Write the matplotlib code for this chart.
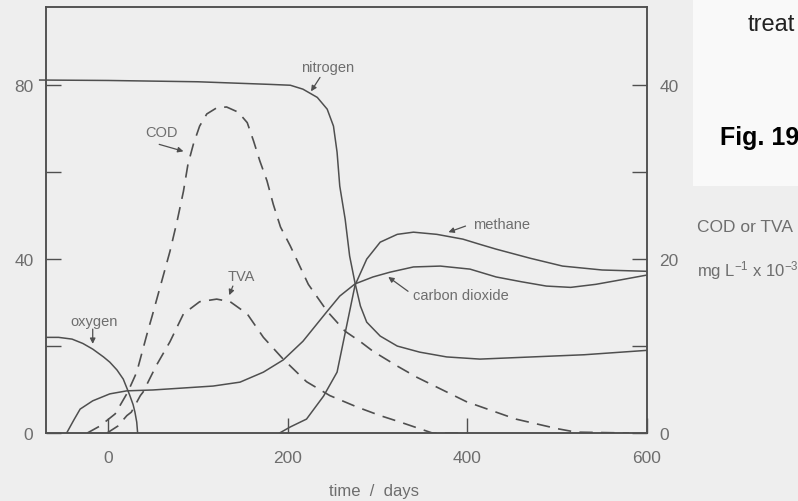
import matplotlib
matplotlib.use("Agg")
import matplotlib.pyplot as plt
from matplotlib.patches import Rectangle

plt.rcParams['font.family'] = ['Liberation Sans', 'DejaVu Sans']
plt.rcParams['mathtext.fontset'] = 'custom'
plt.rcParams['mathtext.rm'] = 'Liberation Sans'
plt.rcParams['mathtext.default'] = 'regular'

# gases, % (left axis)
nitrogen_days = [-76, 0, 100, 180, 203, 217, 233, 244, 251, 255, 258, 264, 269, 275, 281, 288, 303, 322, 347, 377, 414, 472, 530, 599]
nitrogen_vals = [81.2, 81.1, 80.8, 80.2, 80, 79.1, 77.2, 74.5, 70.6, 64.6, 56.8, 49.2, 40.7, 34.5, 29.2, 25.5, 22.3, 20, 18.6, 17.5, 17, 17.5, 18, 19]

oxygen_days = [-69, -55, -40, -28, -17, -5, 2, 10, 17, 24, 28, 30, 32, 33]
oxygen_vals = [22, 22, 21.6, 20.6, 19.3, 17.5, 16.3, 14.5, 12.4, 8.8, 6.5, 4.8, 2.5, 0]

co2_days = [-46, -38, -31, -17, 2, 21, 50, 80, 117, 147, 173, 195, 217, 244, 258, 275, 295, 314, 340, 370, 403, 432, 460, 488, 515, 543, 570, 599]
co2_vals = [0, 3, 5.5, 7.4, 9, 9.7, 9.9, 10.3, 10.8, 11.7, 14, 16.8, 21.1, 28, 31.5, 34.3, 35.9, 37, 38.2, 38.4, 37.7, 35.9, 34.8, 33.8, 33.5, 34.2, 35.2, 36.3]

methane_days = [191, 203, 221, 240, 255, 266, 275, 288, 303, 322, 340, 366, 395, 414, 432, 470, 506, 550, 599]
methane_vals = [0, 1.4, 3.2, 8.5, 14, 25, 34, 40, 43.9, 45.7, 46.2, 45.7, 44.6, 43.4, 42.3, 40.2, 38.4, 37.5, 37.2]

# COD and TVA, mg/L x 10^-3 (right axis)
cod_days = [-23, -9, 8, 22, 32, 44, 49, 69, 77, 84, 89, 95, 102, 110, 121, 132, 145, 155, 162, 169, 177, 184, 192, 203, 223, 244, 264, 281, 295, 322, 344, 399, 454, 500, 521, 580]
cod_vals = [0, 0.8, 2.2, 4.7, 7, 11.6, 13.4, 20.9, 24.4, 27.8, 30.9, 33.2, 35.3, 36.7, 37.4, 37.5, 36.9, 35.7, 33.6, 31.3, 29, 26.3, 23.7, 21.5, 17.1, 14, 11.7, 10.5, 9.4, 7.7, 6.4, 3.6, 1.6, 0.5, 0.1, 0]

tva_days = [-1, 11, 21, 26, 36, 39, 54, 69, 84, 102, 121, 136, 155, 173, 195, 221, 247, 277, 303, 324, 361, 400]
tva_vals = [0, 0.8, 2, 2.4, 4.3, 4.7, 7.8, 10.5, 13.7, 15.1, 15.4, 15.1, 13.7, 11.0, 8.5, 5.9, 4.3, 3.0, 2.0, 1.3, 0, 0]

line_c = '#4f4f4f'
text_c = '#6e6e6e'
bg = '#eeeeee'

fig = plt.figure(figsize=(7.98, 5.02), dpi=100, facecolor=bg)
fig.patches.append(Rectangle((693 / 798, 1 - 187 / 502), 105 / 798, 187 / 502,
                             transform=fig.transFigure, facecolor='#f9f9f9',
                             edgecolor='none', zorder=0))

ax = fig.add_axes([46 / 798, 68 / 502, 601 / 798, 426 / 502])
ax.set_facecolor(bg)
ax.set_xlim(-69, 600)
ax.set_ylim(0, 98)

ax2 = ax.twinx()
ax2.set_ylim(0, 49)

lw = 1.1
ax.plot(nitrogen_days, nitrogen_vals, color=line_c, lw=lw, clip_on=False)
ax.plot(oxygen_days, oxygen_vals, color=line_c, lw=lw)
ax.plot(co2_days, co2_vals, color=line_c, lw=lw)
ax.plot(methane_days, methane_vals, color=line_c, lw=lw)
ax2.plot(cod_days, cod_vals, color=line_c, lw=1.2, dashes=(8, 5))
ax2.plot(tva_days, tva_vals, color=line_c, lw=1.2, dashes=(8, 5))

for a in (ax, ax2):
    for s in a.spines.values():
        s.set_color(line_c)
        s.set_linewidth(1.1)

ax.set_xticks([0, 200, 400, 600])
ax.set_yticks([0, 40, 80])
ax.set_yticks([20, 60], minor=True)
ax2.set_yticks([0, 20, 40])
ax2.set_yticks([10, 30], minor=True)
ax.tick_params(axis='both', which='both', direction='in', length=11, width=1,
               color=line_c, labelcolor=text_c, labelsize=12.5)
ax.tick_params(axis='y', pad=9)
ax.tick_params(axis='x', pad=12)
ax2.tick_params(axis='y', which='both', direction='in', length=11, width=1,
                color=line_c, labelcolor=text_c, labelsize=12.5, pad=9)

# curve labels with little arrows
arrow = dict(arrowstyle='-|>', color=line_c, lw=0.9, mutation_scale=8, shrinkA=0, shrinkB=0)
labels = [('nitrogen', (244, 84.1), (236, 81.8), (226, 78.6)),
          ('COD', (60, 69.2), (57, 66.4), (84, 64.8)),
          ('TVA', (148, 36.1), (139, 33.8), (135, 31.7)),
          ('oxygen', (-16, 25.7), (-17, 23.9), (-17, 20.5)),
          ('methane', (438, 48.0), (398, 47.6), (379, 46.2)),
          ('carbon dioxide', (393, 31.7), (334, 32.6), (312, 35.9))]
for name, pos, tail, head in labels:
    ax.text(pos[0], pos[1], name, color=text_c, fontsize=10.5, ha='center', va='center')
    ax.annotate('', xy=head, xytext=tail, arrowprops=arrow)

fig.text(374 / 798, 1 - 492 / 502, 'time  /  days', color=text_c, fontsize=12,
         ha='center', va='center')

fig.text(697 / 798, 1 - 228 / 502, 'COD or TVA', color=text_c, fontsize=12.5, va='center')
fig.text(697 / 798, 1 - 271 / 502, r'mg L$^{-1}$ x 10$^{-3}$', color=text_c,
         fontsize=12, va='center')

fig.text(748 / 798, 1 - 31 / 502, 'treat', color='#222222', fontsize=17, va='baseline')
fig.text(720 / 798, 1 - 145 / 502, 'Fig. 19', color='black', fontsize=18,
         fontweight='bold', va='baseline')

fig.savefig('out.png', dpi=100, facecolor=bg)
